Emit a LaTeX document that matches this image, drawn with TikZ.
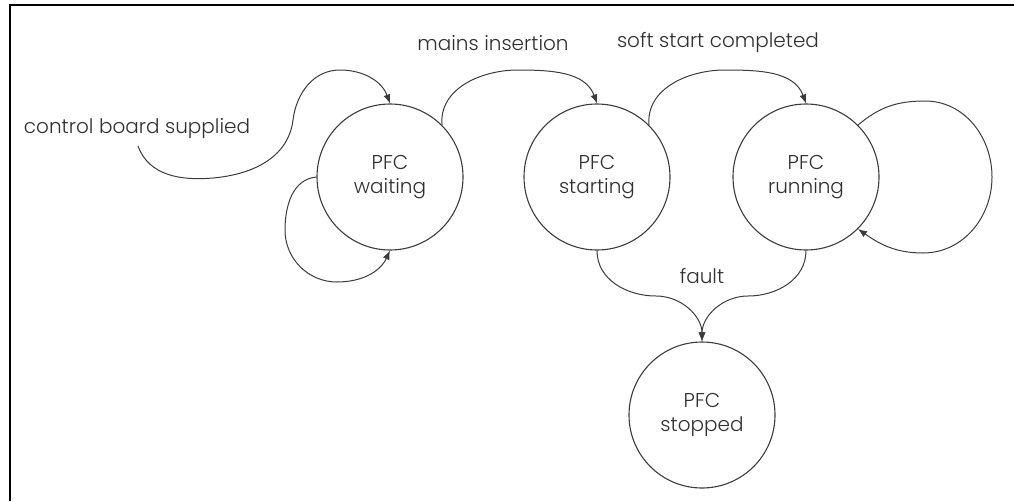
\documentclass[tikz,border=0pt]{standalone}
\usepackage{fontspec}
\setmainfont{Poppins}[UprightFont=* Light]
\usetikzlibrary{arrows.meta}
\definecolor{ln}{HTML}{3C3C3C}
\definecolor{tx}{HTML}{303030}
\tikzset{
  state/.style={circle, draw=ln, line width=1.1pt, minimum size=146pt, inner sep=0pt,
    align=center, text=tx, font=\fontsize{20}{24}\selectfont},
  lbl/.style={text=tx, font=\fontsize{20}{24}\selectfont, inner sep=0pt},
  edge/.style={draw=ln, line width=1pt, -{Latex[length=9pt,width=7pt]}},
  frame/.style={line width=2pt, black}
}
\begin{document}
\begin{tikzpicture}[x=1pt,y=-1pt]
\useasboundingbox (0,0) rectangle (1014,501);
\draw[frame] (10,501) -- (10,5) -- (1014,5);
\node[state] (w) at (390,177) {PFC\\waiting};
\node[state] (s) at (597,177) {PFC\\starting};
\node[state] (r) at (806,177) {PFC\\running};
\node[state] (st) at (702,415) {PFC\\stopped};
\node[lbl] (l1) at (137,129) {control board supplied};
\node[lbl] (l2) at (493,43) {mains insertion};
\node[lbl] (l3) at (718,43) {soft start completed};
\node[lbl] (l4) at (702,276) {fault};
\coordinate (cb) at (138,146);
\draw[edge] (cb) to[out=-70,in=185] (213,178) to[out=5,in=-97] (293,120) to[out=83,in=180] (340,70) to[out=0,in=110] (w.north);
\draw[edge] (w.west) to[out=185,in=90] (285,230) to[out=-90,in=180] (337,282) to[out=0,in=-115] (w.south);
\draw[edge] (w.45) to[out=95,in=180] (518,70) to[out=0,in=110] (s.north);
\draw[edge] (s.45) to[out=95,in=180] (725,70) to[out=0,in=110] (r.north);
\draw[edge] (r.45) to[out=40,in=180] (925,101) to[out=0,in=90] (992,177) to[out=-90,in=0] (923,253) to[out=180,in=-35] (r.-45);
\draw[edge] (s.south) to[out=-90,in=180] (656,296) to[out=0,in=90] (st.north);
\draw[edge] (r.south) to[out=-90,in=0] (748,296) to[out=180,in=90] (st.north);
\end{tikzpicture}
\end{document}
